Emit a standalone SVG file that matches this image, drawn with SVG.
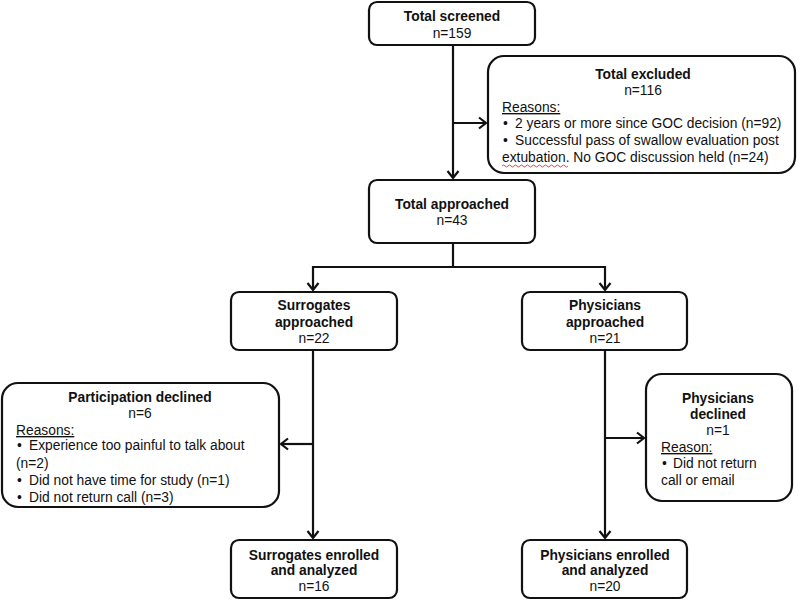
<svg xmlns="http://www.w3.org/2000/svg" width="800" height="600" viewBox="0 0 800 600">
<defs>
<style>
.box{fill:#fff;stroke:#111;stroke-width:2.2}
.t{font-family:"Liberation Sans",Arial,sans-serif;font-size:13.8px;fill:#111}
.b{font-weight:bold;text-anchor:middle}
.c{text-anchor:middle}
.u{text-decoration:underline}
.con{fill:none;stroke:#111;stroke-width:2.2}
</style>
<marker id="arr" markerUnits="userSpaceOnUse" markerWidth="16" markerHeight="16" viewBox="-10 -8 12 16" refX="0" refY="0" orient="auto">
<path d="M-7,-5.5 L0,0 L-7,5.5" fill="none" stroke="#111" stroke-width="2.2"/>
</marker>
</defs>
<rect width="800" height="600" fill="#fff"/>
<g id="connectors">
<path class="con" d="M453 45 V178" marker-end="url(#arr)"/>
<path class="con" d="M453 123 H486" marker-end="url(#arr)"/>
<path class="con" d="M453 243 V267 H313 V290" marker-end="url(#arr)"/>
<path class="con" d="M453 267 H605 V290" marker-end="url(#arr)"/>
<path class="con" d="M313 350 V538" marker-end="url(#arr)"/>
<path class="con" d="M313 444 H281" marker-end="url(#arr)"/>
<path class="con" d="M605 350 V538" marker-end="url(#arr)"/>
<path class="con" d="M605 438 H644" marker-end="url(#arr)"/>
</g>
<g id="screened">
<rect class="box" x="369" y="2" width="166" height="43" rx="8"/>
<text class="t b" x="452" y="21">Total screened</text>
<text class="t c" x="452" y="38">n=159</text>
</g>
<g id="excluded">
<rect class="box" x="488" y="56" width="307" height="117" rx="16"/>
<text class="t b" x="643" y="79">Total excluded</text>
<text class="t c" x="643" y="95">n=116</text>
<text class="t u" x="502" y="112">Reasons:</text>
<text class="t" x="503" y="128">•</text><text class="t" x="515" y="128">2 years or more since GOC decision (n=92)</text>
<text class="t" x="503" y="145">•</text><text class="t" x="515" y="145">Successful pass of swallow evaluation post</text>
<text class="t" x="502" y="162">extubation. No GOC discussion held (n=24)</text>
<path d="M502 166 q1.5 -2 3 0 t3 0 t3 0 t3 0 t3 0 t3 0 t3 0 t3 0 t3 0 t3 0 t3 0 t3 0 t3 0 t3 0 t3 0 t3 0 t3 0 t3 0 t3 0 t3 0 t3 0 t3 0" fill="none" stroke="#e03030" stroke-width="0.9"/>
</g>
<g id="approached">
<rect class="box" x="369" y="180" width="166" height="63" rx="8"/>
<text class="t b" x="452" y="209">Total approached</text>
<text class="t c" x="452" y="225">n=43</text>
</g>
<g id="surrogates-approached">
<rect class="box" x="231" y="292" width="166" height="58" rx="8"/>
<text class="t b" x="314" y="310">Surrogates</text>
<text class="t b" x="314" y="327">approached</text>
<text class="t c" x="314" y="343">n=22</text>
</g>
<g id="physicians-approached">
<rect class="box" x="522" y="292" width="165" height="58" rx="8"/>
<text class="t b" x="605" y="310">Physicians</text>
<text class="t b" x="605" y="327">approached</text>
<text class="t c" x="605" y="343">n=21</text>
</g>
<g id="participation-declined">
<rect class="box" x="2" y="383" width="277" height="124" rx="16"/>
<text class="t b" x="140" y="402">Participation declined</text>
<text class="t c" x="140" y="418">n=6</text>
<text class="t u" x="16" y="435">Reasons:</text>
<text class="t" x="17" y="450">•</text><text class="t" x="29" y="450">Experience too painful to talk about</text>
<text class="t" x="16" y="468">(n=2)</text>
<text class="t" x="17" y="485">•</text><text class="t" x="29" y="485">Did not have time for study (n=1)</text>
<text class="t" x="17" y="502">•</text><text class="t" x="29" y="502">Did not return call (n=3)</text>
</g>
<g id="physicians-declined">
<rect class="box" x="646" y="374" width="146" height="127" rx="16"/>
<text class="t b" x="718" y="403">Physicians</text>
<text class="t b" x="718" y="419">declined</text>
<text class="t c" x="718" y="435">n=1</text>
<text class="t u" x="661" y="452">Reason:</text>
<text class="t" x="662" y="468">•</text><text class="t" x="673" y="468">Did not return</text>
<text class="t" x="661" y="485">call or email</text>
</g>
<g id="surrogates-enrolled">
<rect class="box" x="231" y="540" width="166" height="58" rx="8"/>
<text class="t b" x="314" y="560">Surrogates enrolled</text>
<text class="t b" x="314" y="575">and analyzed</text>
<text class="t c" x="314" y="591">n=16</text>
</g>
<g id="physicians-enrolled">
<rect class="box" x="522" y="540" width="165" height="58" rx="8"/>
<text class="t b" x="605" y="560">Physicians enrolled</text>
<text class="t b" x="605" y="575">and analyzed</text>
<text class="t c" x="605" y="591">n=20</text>
</g>
</svg>
